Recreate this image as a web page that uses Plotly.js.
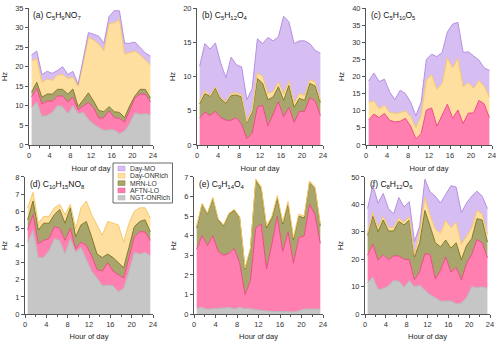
<!DOCTYPE html>
<html>
<head>
<meta charset="utf-8">
<script src="https://cdn.plot.ly/plotly-3.0.1.min.js"></script>
<style>
html, body { margin: 0; padding: 0; background: #fff; }
#chart { width: 500px; height: 341px; }
</style>
</head>
<body>
<div id="chart"></div>
<script>
// hour-of-day bin centres
const hours = [0.5,1.5,2.5,3.5,4.5,5.5,6.5,7.5,8.5,9.5,10.5,11.5,12.5,13.5,14.5,15.5,16.5,17.5,18.5,19.5,20.5,21.5,22.5,23.5];

// factor names, bottom of the stack first
const seriesNames = ['NGT-ONRich', 'AFTN-LO', 'MRN-LO', 'Day-ONRich', 'Day-MO'];
const fillColors = ['#c6c6c6', '#ff80b0', '#a8a66c', '#ffdfa0', '#d7bef2'];
const lineColors = ['#b8b8b8', '#ee4a86', '#7f7a26', '#f6c86a', '#b690e4'];

// stacked levels (top edge of each layer); null = layer absent
// (a) C5H9NO7
const aNGT = [9.5,11,7.3,7.5,8.3,10,9.8,8,10,8,8.3,6.5,5.3,4.5,3.7,3.9,3.8,2.9,3.5,5.5,8.2,7.8,8,7.7];
const aAFTN = [12.3,14.5,10.5,11.2,11.2,12.5,12.5,11,12.2,9,10,10.8,9.5,6.8,7,8.7,7,6.8,5.8,9,12,13,13,11];
const aMRN = [13.5,16,12.2,13,13,14.2,14.2,13,14.3,9.8,11.5,13.3,11.2,8.8,8.5,9.8,8.5,8.3,7,10,12.5,14.2,14.2,12];
const aDayON = [21.5,22,16,16.8,16.5,17.8,18,17,17.3,15,21,27.5,26.8,25.8,24,31,31.2,32,23.2,23.7,24,23,21.8,20.5];
const aDayMO = [23,24,18,18.8,18.3,19,20,18,18.8,15.5,22,28.7,28.3,27.8,26,32.8,34.3,34.3,26,26,26.3,24.8,23.5,22.7];

// (b) C5H12O4
const bNGT = null;
const bAFTN = [3.9,4.8,4.3,4.9,4,3.6,3.6,4,3,0.9,1.7,5.5,5.8,2.8,4.5,6.3,4.1,5.5,3.3,4.9,4.9,6.9,6.4,4.3];
const bMRN = [6,7.5,7.1,8.3,6.7,6.1,7.2,7.3,7,3.3,4.7,9.7,9,6.6,7,8.5,6.5,8.7,5.5,6.8,6.5,9,8.6,6.2];
const bDayON = [6.5,7.9,7.2,8.5,6.9,6.3,7.5,7.6,7.3,3.4,5,10.5,10,7.5,7.8,9.2,7.4,9.3,6.1,7.5,7.2,9.5,9.2,6.5];
const bDayMO = [11.5,14.8,14,14.9,12,9.8,12.8,11.7,11.4,6.6,8.2,15.5,14.8,15.7,15.2,15.8,18.8,18,14.8,15.2,15.2,14.8,13.8,13.4];

// (c) C5H10O5
const cNGT = null;
const cAFTN = [7.3,9,8,9.2,7.2,6.7,6.9,7.8,5.5,1.8,3.3,10.2,10.8,5.5,8.7,11.9,7.8,10.2,6.3,9.3,9.3,13,12,8];
const cMRN = null;
const cDayON = [12.5,12.8,10.6,11.6,9.5,9.2,9.4,10,8.3,5,8.5,19,20.5,16.3,18,25.5,22.5,25.3,17,18.2,16.5,18.8,17.2,14];
const cDayMO = [18.7,21,18.5,19.2,15.5,13.2,16,15,12.5,8.5,12.5,25,26.5,25.8,27,33,35.3,35.8,27,27.2,26,24.8,22.5,21.8];

// (d) C10H15NO8
const dNGT = [4.2,4.9,3.3,3.3,3.7,4.4,4.3,3.5,4.4,3.6,3.9,3.2,2.5,2.1,1.65,1.7,1.65,1.3,1.5,2.5,3.6,3.5,3.6,3.4];
const dAFTN = [4.9,5.8,4.1,4.3,4.4,5.1,5,4.3,5,3.8,4.2,4,3.4,2.6,2.5,3,2.5,2.3,2.1,3.3,4.5,4.8,4.8,4.3];
const dMRN = [5.5,6.6,4.9,5.3,5.3,5.8,6.1,5.3,6.2,4.5,5.2,5.4,4.5,3.5,3.3,3.5,3.3,3,2.7,3.9,5.1,5.4,5.5,4.8];
const dDayON = [6.2,7.1,5.3,5.7,5.7,6.2,6.4,5.8,6.4,5,6.2,6.6,5.8,5.2,4.6,5.4,5.3,5.2,4.2,5.3,6,6.2,6.2,5.6];
const dDayMO = null;

// (e) C9H14O4
const eNGT = [0.3,0.33,0.25,0.27,0.27,0.32,0.33,0.27,0.33,0.28,0.28,0.22,0.18,0.15,0.13,0.13,0.13,0.1,0.11,0.16,0.26,0.26,0.26,0.25];
const eAFTN = [3.3,4,3.5,4,3.2,3,3.1,3.35,2.6,1,1.7,4.4,4.6,2.3,3.6,5,3.2,4.2,2.6,3.9,4,5.6,5.1,3.6];
const eMRN = [4.4,5.6,5.1,5.9,4.8,4.5,5.1,5.3,4.9,2.3,3.3,6.8,6.4,4.4,4.9,5.9,4.6,5.6,3.8,5,4.9,6.7,6.4,4.5];
const eDayON = [4.5,5.65,5.15,5.95,4.85,4.55,5.15,5.35,4.95,2.35,3.35,6.9,6.5,4.5,5,6.05,4.7,5.75,3.9,5.1,5,6.8,6.5,4.6];
const eDayMO = null;

// (f) C8H12O6
const fNGT = [11.5,13.5,9,9.2,10.3,12.2,12,9.8,12.2,10,10.5,8.8,7,6,4.7,4.8,4.8,3.7,4,6,10,9.7,9.9,9.5];
const fAFTN = [21.5,25.5,19.7,21.6,19.8,21.2,21.2,20,19.8,12.5,15.5,22,21.7,12.8,16,20.8,15.3,17,12.5,18.5,21.8,27.2,26,20.5];
const fMRN = [28.7,35.8,30,34.3,30.3,30.3,33.8,32.5,34.3,20.8,26,37.8,32,26,24.5,27,24,26,19.8,25,27.5,34.8,34.3,26.3];
const fDayON = [29.5,37,31.5,35.5,31.5,31.5,35,33.5,35.5,21.5,30,42.5,36,31,29.5,34.2,31.5,33.5,25.5,28.5,31.5,37.8,36.5,29];
const fDayMO = [38.5,47,40.5,44,38.5,36.5,42.5,39,41,26.5,32,49.2,44.5,43,40.5,43.5,46.8,46.3,37,40.5,43,44.8,43,38.5];

const panelLabels = [
  '(a) C<sub>5</sub>H<sub>9</sub>NO<sub>7</sub>',
  '(b) C<sub>5</sub>H<sub>12</sub>O<sub>4</sub>',
  '(c) C<sub>5</sub>H<sub>10</sub>O<sub>5</sub>',
  '(d) C<sub>10</sub>H<sub>15</sub>NO<sub>8</sub>',
  '(e) C<sub>9</sub>H<sub>14</sub>O<sub>4</sub>',
  '(f) C<sub>8</sub>H<sub>12</sub>O<sub>6</sub>'
];
const panelLevels = [
  [aNGT, aAFTN, aMRN, aDayON, aDayMO],
  [bNGT, bAFTN, bMRN, bDayON, bDayMO],
  [cNGT, cAFTN, cMRN, cDayON, cDayMO],
  [dNGT, dAFTN, dMRN, dDayON, dDayMO],
  [eNGT, eAFTN, eMRN, eDayON, eDayMO],
  [fNGT, fAFTN, fMRN, fDayON, fDayMO]
];
const yMax = [35, 20, 40, 8, 7, 50];
const yStep = [5, 5, 5, 1, 1, 10];

// plot areas in paper coords
const xDomains = [[0.058, 0.306], [0.394, 0.646], [0.732, 0.984], [0.05, 0.306], [0.388, 0.646], [0.73, 0.98]];
const topRow = [0.575, 0.9765];
const botRow = [0.079, 0.481];

const font = 'Arial, "Liberation Sans", sans-serif';
let data = [];
let layout = {
  width: 500, height: 341,
  margin: {l: 0, r: 0, t: 0, b: 0},
  paper_bgcolor: '#fff', plot_bgcolor: 'rgba(0,0,0,0)',
  showlegend: false,
  font: {family: font, size: 7.5, color: '#222'},
  annotations: [], shapes: []
};

panelLevels.forEach(function(levels, p) {
  const n = p === 0 ? '' : String(p + 1);
  let first = true;
  levels.forEach(function(lv, s) {
    if (!lv) return;
    data.push({
      x: hours, y: lv, type: 'scatter', mode: 'lines',
      name: seriesNames[s],
      xaxis: 'x' + n, yaxis: 'y' + n,
      fill: first ? 'tozeroy' : 'tonexty',
      fillcolor: fillColors[s],
      line: {color: lineColors[s], width: 1},
      hoverinfo: 'skip'
    });
    first = false;
  });

  const axisStyle = {
    showgrid: false, zeroline: false, showline: true,
    linecolor: '#555', linewidth: 1,
    ticks: 'outside', ticklen: 3, tickcolor: '#555', tickwidth: 1,
    tickfont: {size: 7.5, color: '#333'}
  };
  layout['xaxis' + n] = Object.assign({}, axisStyle, {
    domain: xDomains[p], anchor: 'y' + n,
    range: [0, 24], tickvals: [0, 4, 8, 12, 16, 20, 24],
    minor: {tickvals: [2, 6, 10, 14, 18, 22], ticks: 'outside', ticklen: 2, tickcolor: '#555'},
    title: {text: 'Hour of day', font: {size: 7.5}, standoff: 6}
  });
  layout['yaxis' + n] = Object.assign({}, axisStyle, {
    domain: p < 3 ? topRow : botRow, anchor: 'x' + n,
    range: [0, yMax[p]], dtick: yStep[p],
    title: {text: 'Hz', font: {size: 7.5}, standoff: 6}
  });
  layout.annotations.push({
    xref: 'x' + n + ' domain', yref: 'y' + n + ' domain',
    x: 0.02, y: 1.0, xanchor: 'left', yanchor: 'top',
    text: panelLabels[p], showarrow: false,
    font: {size: 8.5, color: '#111'}
  });
});

// compact legend box (top item = top of the stack)
const legX0 = 0.226, legX1 = 0.345, legTop = 1 - 163 / 341, legBot = 1 - 203 / 341;
layout.shapes.push({type: 'rect', xref: 'paper', yref: 'paper',
  x0: legX0, x1: legX1, y0: legBot, y1: legTop,
  line: {color: '#444', width: 0.8}, fillcolor: '#fff', layer: 'above'});
for (let i = 0; i < seriesNames.length; i++) {
  const s = seriesNames.length - 1 - i;
  const yc = 1 - (168.5 + i * 7.3) / 341;
  layout.shapes.push({type: 'rect', xref: 'paper', yref: 'paper',
    x0: 118 / 500, x1: 125 / 500, y0: yc - 2.3 / 341, y1: yc + 2.3 / 341,
    line: {color: lineColors[s], width: 0.6}, fillcolor: fillColors[s], layer: 'above'});
  layout.annotations.push({xref: 'paper', yref: 'paper', x: 129 / 500, y: yc,
    xanchor: 'left', yanchor: 'middle', text: seriesNames[s], showarrow: false,
    borderpad: 0, font: {size: 6.8, color: '#333'}});
}

Plotly.newPlot('chart', data, layout, {staticPlot: true, displayModeBar: false});
</script>
</body>
</html>
